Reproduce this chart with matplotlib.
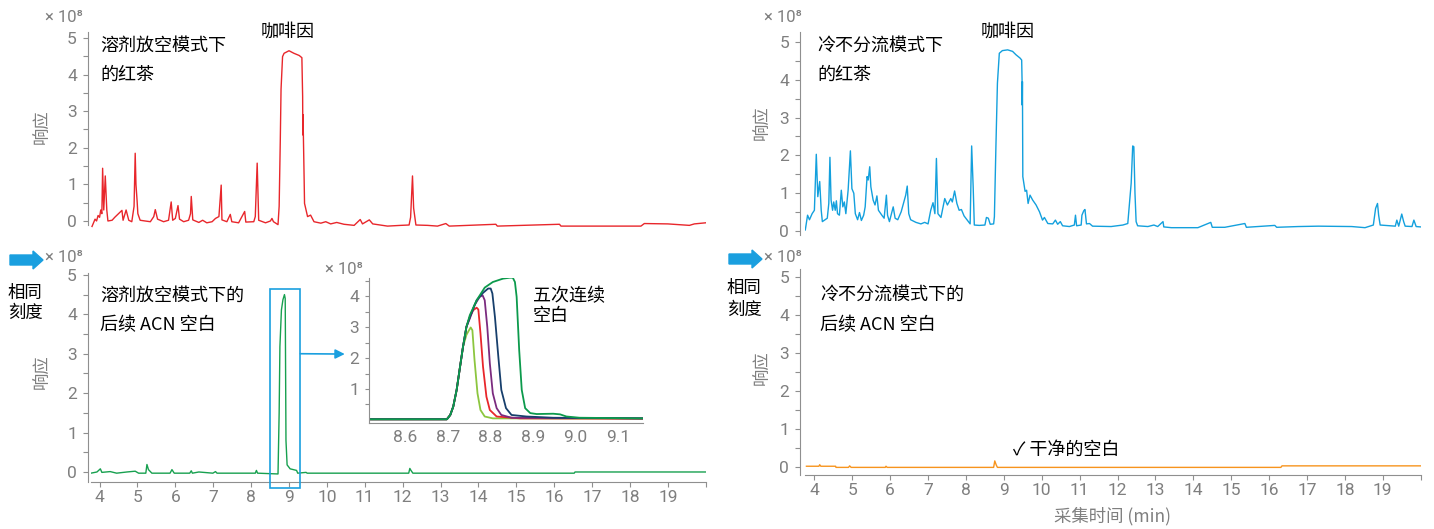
"""Red tea vs. following ACN blank: solvent-vent vs. cold splitless chromatograms."""

import matplotlib
matplotlib.use("Agg")
import matplotlib.pyplot as plt
from matplotlib.patches import Rectangle, FancyArrow
from matplotlib.ticker import FixedLocator, MultipleLocator

W, H = 1434, 529

# (time min, response x1e8)
vent_tea = [
    (3.80, -0.15), (3.84, -0.05), (3.88, 0.05), (3.92, 0.00), (3.96, 0.15),
    (4.00, 0.10), (4.03, 0.30), (4.06, 0.20), (4.08, 1.44), (4.11, 0.30),
    (4.15, 1.23), (4.19, 0.30), (4.22, 0.00), (4.33, 0.02), (4.40, 0.10),
    (4.50, 0.20), (4.59, 0.29), (4.62, 0.02), (4.70, 0.30), (4.77, 0.02),
    (4.85, -0.02), (4.91, 0.40), (4.94, 1.85), (4.96, 1.00), (4.99, 0.55),
    (5.01, 0.20), (5.07, 0.02), (5.20, 0.00), (5.34, -0.02), (5.43, 0.12),
    (5.47, 0.31), (5.53, 0.05), (5.69, -0.02), (5.82, 0.02), (5.89, 0.52),
    (5.93, 0.02), (6.00, 0.07), (6.07, 0.42), (6.11, 0.05), (6.22, -0.02),
    (6.35, 0.02), (6.40, 0.20), (6.42, 0.67), (6.46, 0.03), (6.62, -0.04),
    (6.72, 0.02), (6.83, -0.05), (6.97, -0.02), (7.06, 0.07), (7.15, 0.12),
    (7.21, 0.98), (7.23, 0.03), (7.36, -0.02), (7.45, 0.18), (7.49, -0.02),
    (7.67, -0.05), (7.83, 0.26), (7.86, -0.03), (8.07, -0.02), (8.11, 0.12),
    (8.16, 1.58), (8.20, 0.02), (8.38, -0.05), (8.51, 0.00), (8.55, 0.07),
    (8.59, -0.02), (8.71, -0.10), (8.74, 0.40), (8.77, 2.20), (8.79, 3.60),
    (8.83, 4.49), (8.87, 4.58), (9.00, 4.65), (9.13, 4.58), (9.27, 4.52),
    (9.34, 4.46), (9.36, 3.40), (9.365, 2.35), (9.37, 2.90), (9.40, 1.12),
    (9.41, 0.48), (9.49, 0.12), (9.57, 0.16), (9.66, -0.02), (9.84, -0.06),
    (9.97, -0.02), (10.10, -0.08), (10.26, -0.04), (10.45, -0.09), (10.72, -0.12),
    (10.88, 0.04), (10.94, -0.08), (11.12, 0.03), (11.21, -0.08), (11.60, -0.14),
    (11.95, -0.12), (12.17, -0.11), (12.21, 0.10), (12.26, 1.23), (12.29, 0.35),
    (12.35, -0.11), (12.66, -0.12), (12.92, -0.14), (13.14, -0.07), (13.23, -0.14),
    (14.46, -0.09), (14.50, -0.14), (16.14, -0.09), (16.18, -0.14), (18.29, -0.14),
    (18.38, -0.07), (19.00, -0.08), (19.57, -0.12), (19.70, -0.08), (20.00, -0.05),
]

cold_tea = [
    (3.76, 0.03), (3.82, 0.42), (3.87, 0.30), (3.94, 0.46), (4.00, 0.55),
    (4.05, 2.03), (4.09, 0.91), (4.14, 1.31), (4.18, 0.55), (4.21, 0.25),
    (4.34, 0.34), (4.38, 0.73), (4.41, 1.95), (4.44, 0.82), (4.48, 0.55),
    (4.51, 0.77), (4.55, 0.55), (4.58, 0.80), (4.61, 0.46), (4.66, 0.42),
    (4.71, 1.08), (4.75, 0.64), (4.79, 0.77), (4.83, 0.46), (4.89, 1.08),
    (4.95, 2.12), (4.99, 1.12), (5.04, 1.00), (5.08, 0.46), (5.14, 0.30),
    (5.19, 0.49), (5.24, 0.28), (5.30, 0.42), (5.34, 0.64), (5.39, 1.44),
    (5.42, 1.35), (5.46, 1.70), (5.49, 1.17), (5.55, 0.82), (5.60, 0.69),
    (5.65, 0.93), (5.69, 0.55), (5.78, 0.42), (5.84, 0.34), (5.90, 0.95),
    (5.93, 0.42), (5.98, 0.25), (6.08, 0.64), (6.13, 0.34), (6.20, 0.30),
    (6.29, 0.51), (6.36, 0.77), (6.41, 0.95), (6.45, 1.19), (6.49, 0.46),
    (6.54, 0.30), (6.68, 0.23), (6.81, 0.19), (6.91, 0.23), (7.00, 0.19),
    (7.07, 0.55), (7.13, 0.75), (7.18, 0.46), (7.22, 1.92), (7.26, 0.46),
    (7.34, 0.36), (7.44, 0.86), (7.51, 0.69), (7.60, 0.86), (7.64, 0.77),
    (7.70, 1.06), (7.76, 0.73), (7.82, 0.55), (7.88, 0.57), (7.95, 0.40),
    (8.04, 0.28), (8.11, 0.19), (8.15, 2.25), (8.19, 1.17), (8.22, 0.16),
    (8.35, 0.15), (8.50, 0.16), (8.54, 0.36), (8.59, 0.34), (8.64, 0.18),
    (8.73, 0.19), (8.75, 0.38), (8.79, 2.23), (8.83, 3.91), (8.88, 4.70),
    (8.96, 4.77), (9.10, 4.79), (9.23, 4.75), (9.32, 4.66), (9.43, 4.57),
    (9.47, 4.52), (9.48, 4.00), (9.485, 3.33), (9.49, 3.95), (9.50, 1.44),
    (9.56, 1.05), (9.60, 1.08), (9.64, 0.73), (9.69, 0.95), (9.76, 0.82),
    (9.85, 0.69), (9.94, 0.51), (10.02, 0.29), (10.07, 0.36), (10.16, 0.20),
    (10.29, 0.19), (10.36, 0.29), (10.42, 0.18), (10.49, 0.25), (10.55, 0.14),
    (10.73, 0.12), (10.86, 0.16), (10.89, 0.42), (10.92, 0.14), (11.04, 0.16),
    (11.06, 0.42), (11.11, 0.54), (11.14, 0.57), (11.18, 0.19), (11.26, 0.20),
    (11.34, 0.13), (11.83, 0.12), (12.14, 0.16), (12.27, 0.20), (12.36, 1.27),
    (12.40, 2.25), (12.43, 2.23), (12.46, 1.00), (12.49, 0.25), (12.53, 0.14),
    (12.80, 0.12), (12.96, 0.16), (13.06, 0.12), (13.20, 0.25), (13.22, 0.11),
    (13.42, 0.09), (14.12, 0.09), (14.46, 0.23), (14.50, 0.10), (14.83, 0.10),
    (15.36, 0.20), (15.40, 0.10), (16.15, 0.15), (16.20, 0.10), (16.77, 0.12),
    (17.30, 0.13), (18.18, 0.12), (18.53, 0.09), (18.75, 0.16), (18.81, 0.60),
    (18.86, 0.73), (18.89, 0.42), (18.93, 0.16), (19.33, 0.13), (19.37, 0.29),
    (19.42, 0.13), (19.46, 0.29), (19.50, 0.45), (19.55, 0.25), (19.59, 0.13),
    (19.77, 0.12), (19.82, 0.29), (19.88, 0.12), (20.00, 0.11),
]

vent_blank = [
    (3.77, -0.03), (3.93, 0.00), (4.02, 0.08), (4.06, -0.01), (4.28, 0.01),
    (4.45, -0.03), (4.72, 0.00), (4.94, 0.02), (5.03, -0.03), (5.22, -0.03),
    (5.25, 0.19), (5.29, 0.06), (5.38, -0.03), (5.86, -0.03), (5.91, 0.06),
    (5.97, -0.03), (6.38, -0.03), (6.42, 0.03), (6.45, -0.03), (6.62, 0.00),
    (6.99, -0.03), (7.06, 0.01), (7.10, -0.03), (8.11, -0.03), (8.14, 0.04),
    (8.17, -0.03), (8.71, -0.05), (8.74, 1.50), (8.76, 3.18), (8.80, 4.11),
    (8.84, 4.37), (8.88, 4.50), (8.90, 4.40), (8.92, 0.80), (8.95, 0.18),
    (9.03, 0.08), (9.20, 0.04), (9.23, -0.03), (9.45, -0.01), (9.48, -0.03),
    (12.16, -0.03), (12.19, 0.09), (12.22, 0.04), (12.27, -0.03), (16.53, -0.03),
    (16.55, 0.00), (20.00, 0.00),
]

cold_blank = [
    (3.79, 0.03), (4.12, 0.03), (4.14, 0.07), (4.17, 0.03), (4.56, 0.03),
    (4.57, 0.00), (4.90, 0.00), (4.93, 0.04), (4.97, 0.00), (5.87, 0.00),
    (5.89, 0.03), (5.92, 0.00), (8.73, 0.00), (8.76, 0.17), (8.80, 0.06),
    (8.83, 0.00), (16.31, 0.00), (16.34, 0.04), (20.00, 0.04),
]

# five consecutive blanks, 8.5-9.16 min zoom
rise = [(8.518, 0.02), (8.698, 0.02), (8.706, 0.16), (8.713, 0.43), (8.721, 0.97),
        (8.729, 1.72), (8.736, 2.37)]
blank_1 = rise + [(8.744, 2.75), (8.750, 2.90), (8.754, 2.99), (8.758, 2.90), (8.763, 1.94),
                  (8.770, 0.86), (8.777, 0.32), (8.787, 0.11), (8.806, 0.05), (9.157, 0.04)]
blank_2 = rise + [(8.744, 3.01), (8.752, 3.33), (8.760, 3.55), (8.768, 3.63), (8.772, 3.57),
                  (8.777, 2.80), (8.783, 1.72), (8.791, 0.75), (8.799, 0.32), (8.815, 0.11),
                  (8.870, 0.05), (9.157, 0.04)]
blank_3 = rise + [(8.744, 3.01), (8.752, 3.28), (8.763, 3.71), (8.775, 3.98), (8.782, 4.03),
                  (8.787, 3.87), (8.793, 3.01), (8.799, 1.83), (8.806, 0.86), (8.815, 0.38),
                  (8.826, 0.16), (8.850, 0.07), (9.157, 0.05)]
blank_4 = rise + [(8.744, 3.01), (8.752, 3.33), (8.768, 3.87), (8.783, 4.11), (8.795, 4.25),
                  (8.801, 4.25), (8.805, 4.09), (8.811, 3.33), (8.819, 2.04), (8.826, 0.97),
                  (8.837, 0.38), (8.850, 0.16), (8.885, 0.11), (8.948, 0.07), (9.157, 0.05)]
blank_5 = rise + [(8.744, 3.01), (8.752, 3.39), (8.768, 3.87), (8.787, 4.28), (8.806, 4.46),
                  (8.830, 4.57), (8.846, 4.60), (8.853, 4.60), (8.858, 4.46), (8.862, 3.98),
                  (8.868, 2.26), (8.874, 0.97), (8.882, 0.38), (8.894, 0.22), (8.909, 0.19),
                  (8.948, 0.20), (8.964, 0.18), (8.979, 0.11), (9.010, 0.07), (9.157, 0.05)]
blank_colors = ["#8cc63f", "#e8262b", "#7b2b7f", "#173f6c", "#0c9a4c"]

x_ticks = list(range(4, 21))
x_labels = [str(i) for i in range(4, 20)] + [""]
zoom_x_ticks = [8.6, 8.7, 8.8, 8.9, 9.0, 9.1]

RED = "#e8262b"
BLUE = "#13a0dd"
GREEN = "#17a04f"
ORANGE = "#f7941d"
ARROW = "#1a9fdf"
GRAY = "#7f7f7f"
SPINE = "#8f8f8f"

plt.rcParams["font.family"] = ["Roboto", "Noto Sans CJK SC", "DejaVu Sans"]
CJK = ["Noto Sans CJK SC", "DejaVu Sans"]

fig = plt.figure(figsize=(W / 100, H / 100), dpi=100)


def box(x0, y0, x1, y1):
    return [x0 / W, 1 - y1 / H, (x1 - x0) / W, (y1 - y0) / H]


def ftext(x, y, s, **kw):
    kw.setdefault("va", "center")
    kw.setdefault("family", CJK)
    kw.setdefault("fontsize", 13)
    fig.text(x / W, 1 - y / H, s, **kw)


def style(ax, ylim, xaxis, outward):
    for side in ("top", "right"):
        ax.spines[side].set_visible(False)
    ax.spines["left"].set_color(SPINE)
    ax.spines["left"].set_position(("outward", outward))
    ax.set_xlim(3.76, 20.0)
    ax.set_ylim(*ylim)
    ax.yaxis.set_major_locator(FixedLocator(range(6)))
    ax.yaxis.set_minor_locator(MultipleLocator(0.5))
    ax.tick_params(axis="y", which="both", colors=SPINE, labelcolor=GRAY,
                   labelsize=12.5, length=3.5, width=0.8, pad=4.5)
    if xaxis:
        ax.spines["bottom"].set_color(SPINE)
        ax.set_xticks(x_ticks)
        ax.set_xticklabels(x_labels)
        ax.tick_params(axis="x", colors=SPINE, labelcolor=GRAY,
                       labelsize=12.5, length=3.5, width=0.8, pad=2.5)
    else:
        ax.spines["bottom"].set_visible(False)
        ax.spines["left"].set_bounds(-0.1, ylim[1])
        ax.set_xticks([])
    ax.patch.set_alpha(0)


def draw(ax, pts, color, lw=1.0):
    t, v = zip(*pts)
    ax.plot(t, v, color=color, lw=lw, solid_joinstyle="round")


ax_tl = fig.add_axes(box(90.5, 31.7, 705.7, 228.3))
style(ax_tl, (-0.2, 5.17), False, 1.8)
draw(ax_tl, vent_tea, RED)

ax_bl = fig.add_axes(box(90.5, 273.3, 705.7, 482))
style(ax_bl, (-0.254, 5.04), True, 1.8)
draw(ax_bl, vent_blank, GREEN)

ax_tr = fig.add_axes(box(805.3, 31.7, 1420.7, 236))
style(ax_tr, (-0.13, 5.27), False, 3.6)
draw(ax_tr, cold_tea, BLUE)

ax_br = fig.add_axes(box(805.3, 269, 1420.7, 475))
style(ax_br, (-0.2, 5.21), True, 3.6)
draw(ax_br, cold_blank, ORANGE)

# zoomed inset of the five blanks
ax_in = fig.add_axes(box(369, 277.7, 643, 423))
for side in ("top", "right"):
    ax_in.spines[side].set_visible(False)
for side in ("left", "bottom"):
    ax_in.spines[side].set_color(SPINE)
ax_in.set_xlim(8.515, 9.159)
ax_in.set_ylim(-0.1, 4.6)
ax_in.set_xticks(zoom_x_ticks)
ax_in.set_xticklabels([f"{x:.1f}" for x in zoom_x_ticks])
ax_in.yaxis.set_major_locator(FixedLocator([1, 2, 3, 4]))
ax_in.yaxis.set_minor_locator(FixedLocator([0.5, 1.5, 2.5, 3.5, 4.5]))
ax_in.tick_params(axis="y", which="both", colors=SPINE, labelcolor=GRAY,
                  labelsize=12.5, length=3, width=0.8, pad=4)
ax_in.tick_params(axis="x", colors=SPINE, labelcolor=GRAY, labelsize=12.5,
                  length=0, pad=5)
ax_in.patch.set_alpha(0)
for pts, c in zip([blank_1, blank_2, blank_3, blank_4, blank_5], blank_colors):
    draw(ax_in, pts, c, lw=1.3)

ax_bl.add_patch(Rectangle((8.51, -0.41), 0.79, 5.05, fill=False, edgecolor=ARROW,
                          lw=1.2, clip_on=False, zorder=5))
ax_bl.annotate("", xy=(8.458, 2.13), xycoords=ax_in.transData,
               xytext=(9.30, 3.0), textcoords=ax_bl.transData,
               arrowprops=dict(arrowstyle="-|>", color=ARROW, lw=1.2,
                               shrinkA=0, shrinkB=0, mutation_scale=14))

# fat "same scale" arrows
for x0, y0 in [(10, 260), (729, 259)]:
    fig.patches.append(FancyArrow(x0 / 100, (H - y0) / 100, 0.33, 0, width=0.10,
                                  head_width=0.18, head_length=0.10,
                                  length_includes_head=True, color=ARROW,
                                  transform=fig.dpi_scale_trans))

# texts
for x, y in [(83, 18), (83, 258), (802, 18), (802, 257), (363, 269)]:
    ftext(x, y, "× 10⁸", ha="right", color=GRAY, fontsize=12,
          family=["Roboto", "DejaVu Sans"])
for x, y in [(43, 127), (43, 372), (763, 123), (763, 368)]:
    ftext(x, y, "响应", ha="center", rotation=90, color=GRAY, fontsize=12.5)

ftext(100, 46, "溶剂放空模式下")
ftext(100, 75, "的红茶")
ftext(288, 32, "咖啡因", ha="center")
ftext(100, 296, "溶剂放空模式下的")
ftext(100, 325, "后续 ACN 空白")
ftext(8, 293, "相同", fontsize=12.5)
ftext(8, 313, "刻度", fontsize=12.5)
ftext(533, 296, "五次连续")
ftext(533, 316, "空白")
ftext(817, 46, "冷不分流模式下")
ftext(817, 75, "的红茶")
ftext(1008, 32, "咖啡因", ha="center")
ftext(820, 295, "冷不分流模式下的")
ftext(820, 325, "后续 ACN 空白")
ftext(727, 288, "相同", fontsize=12.5)
ftext(727, 310, "刻度", fontsize=12.5)
ftext(1013, 450, "✓ 干净的空白")
ftext(1112, 516, "采集时间 (min)", ha="center", color=GRAY, fontsize=12.5,
      family=["Noto Sans CJK SC", "Roboto", "DejaVu Sans"])

fig.savefig("out.png", dpi=100)
